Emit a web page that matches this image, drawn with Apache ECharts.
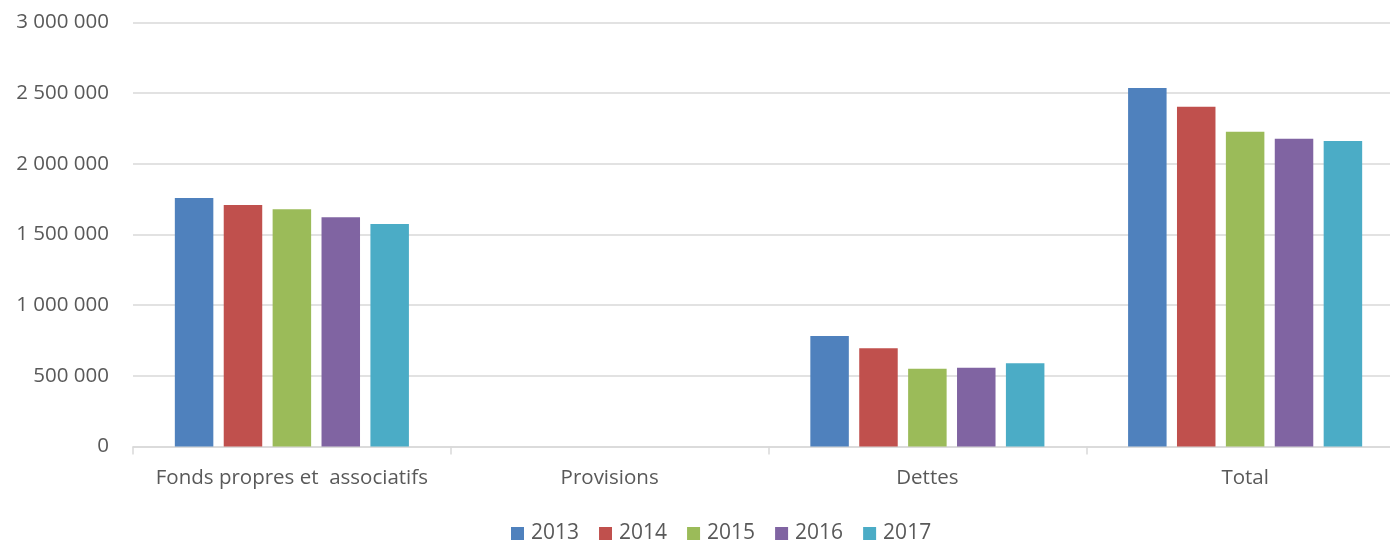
<!DOCTYPE html>
<html>
<head>
<meta charset="utf-8">
<script src="https://cdn.jsdelivr.net/npm/echarts@6/dist/echarts.min.js"></script>
<style>html,body{margin:0;padding:0;background:#fff}#c{width:1390px;height:541px}</style>
</head>
<body>
<div id="c"></div>
<script>
const categories = ['Fonds propres et  associatifs', 'Provisions', 'Dettes', 'Total'];
const years = ['2013', '2014', '2015', '2016', '2017'];
const v2013 = [1758000, 0, 782000, 2537000];
const v2014 = [1709000, 0, 695000, 2404000];
const v2015 = [1678000, 0, 550000, 2227000];
const v2016 = [1622000, 0, 558000, 2178000];
const v2017 = [1574000, 0, 589000, 2162000];
const seriesValues = [v2013, v2014, v2015, v2016, v2017];
const colors = ['#4f81bd', '#c0504d', '#9bbb59', '#8064a2', '#4bacc6'];

const chart = echarts.init(document.getElementById('c'), null, {renderer: 'canvas'});
const fmt = v => String(v).replace(/\B(?=(\d{3})+(?!\d))/g, ' ');
chart.setOption({
  animation: false,
  textStyle: {fontFamily: 'Open Sans'},
  legend: {
    top: 523, left: 511,
    itemWidth: 13, itemHeight: 13, itemGap: 20,
    icon: 'rect',
    padding: 0,
    textStyle: {fontSize: 21, color: '#595959', fontFamily: 'Open Sans', padding: [0, 0, 0, 2]},
    data: years
  },
  grid: {left: 133, width: 1271, top: 22.5, height: 424, containLabel: false, outerBoundsMode: 'none'},
  xAxis: {
    type: 'category', data: categories,
    axisLine: {lineStyle: {color: '#d9d9d9', width: 1.5}},
    axisTick: {show: true, length: 8, lineStyle: {color: '#d9d9d9', width: 1.5}},
    axisLabel: {fontSize: 20.5, color: '#595959', margin: 21, interval: 0, fontFamily: 'Open Sans'}
  },
  yAxis: {
    type: 'value', min: 0, max: 3000000, interval: 500000,
    axisLine: {show: false}, axisTick: {show: false},
    splitLine: {lineStyle: {color: '#d9d9d9', width: 1.5}},
    axisLabel: {fontSize: 20.5, color: '#595959', margin: 24, formatter: fmt, fontFamily: 'Open Sans'}
  },
  series: years.map((y, i) => ({
    name: y, type: 'bar', data: seriesValues[i],
    barWidth: 38.5, barGap: '27%',
    itemStyle: {color: colors[i]}
  }))
});
</script>
</body>
</html>
